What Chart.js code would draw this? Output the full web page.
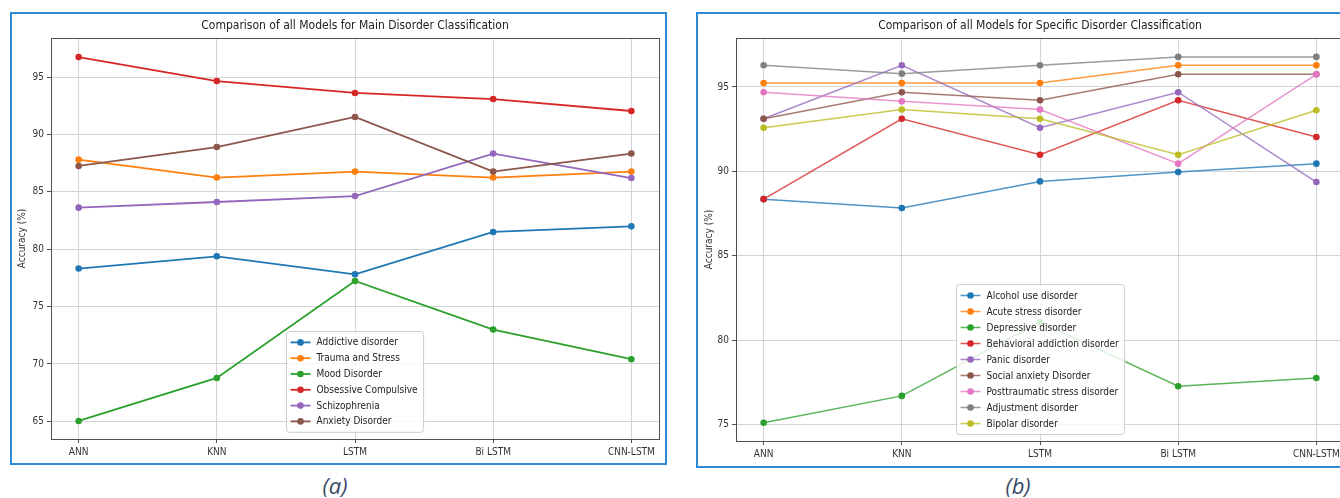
<!DOCTYPE html>
<html>
<head>
<meta charset="utf-8">
<script src="https://cdn.jsdelivr.net/npm/chart.js@4.4.1/dist/chart.umd.min.js"></script>
<style>
    body { margin: 0; width: 1340px; height: 498px; overflow: hidden; background: #fff; position: relative; }
    .panel { position: absolute; box-sizing: border-box; border: 2px solid #2f8ad6; }
    canvas { position: absolute; }
    .cap { position: absolute; width: 100px; text-align: center; font-family: 'Open Sans', 'Noto Sans', sans-serif;
           font-style: italic; font-size: 22px; color: #3b4a68; }
</style>
</head>
<body>
<div class="panel" style="left:10px; top:12px; width:657px; height:453px;"></div>
<div class="panel" style="left:696px; top:12px; width:680px; height:456px;"></div>
<canvas id="chartA" width="652" height="448" style="left:12px; top:14px;"></canvas>
<canvas id="chartB" width="650" height="450" style="left:699px; top:14px;"></canvas>
<div class="cap" style="left:285px; top:470px;">(a)</div>
<div class="cap" style="left:968px; top:470px;">(b)</div>

<script>
const models = ['ANN', 'KNN', 'LSTM', 'Bi LSTM', 'CNN-LSTM'];
const yTicksA = [65, 70, 75, 80, 85, 90, 95];
const yTicksB = [75, 80, 85, 90, 95];

// (a) main disorder classes
const mainLabels = ['Addictive disorder', 'Trauma and Stress', 'Mood Disorder',
    'Obsessive Compulsive', 'Schizophrenia', 'Anxiety Disorder'];
const addictive = [78.31, 79.38, 77.81, 81.50, 81.99];
const trauma = [87.80, 86.24, 86.76, 86.24, 86.76];
const mood = [65.03, 68.78, 77.23, 73.00, 70.41];
const obsessive = [96.74, 94.65, 93.61, 93.08, 92.04];
const schizo = [83.62, 84.11, 84.63, 88.33, 86.20];
const anxiety = [87.25, 88.90, 91.52, 86.76, 88.33];

// (b) specific disorder classes
const specLabels = ['Alcohol use disorder', 'Acute stress disorder', 'Depressive disorder',
    'Behavioral addiction disorder', 'Panic disorder', 'Social anxiety Disorder',
    'Posttraumatic stress disorder', 'Adjustment disorder', 'Bipolar disorder'];
const alcohol = [88.36, 87.83, 89.41, 89.96, 90.46];
const acute = [95.24, 95.24, 95.24, 96.29, 96.29];
const depressive = [75.12, 76.71, 81.08, 77.28, 77.77];
const behavioral = [88.36, 93.12, 90.99, 94.21, 92.04];
const panic = [93.12, 96.29, 92.59, 94.69, 89.37];
const socialAnx = [93.12, 94.69, 94.21, 95.75, 95.75];
const ptsd = [94.69, 94.15, 93.66, 90.46, 95.75];
const adjustment = [96.29, 95.79, 96.29, 96.78, 96.78];
const bipolar = [92.59, 93.66, 93.12, 90.99, 93.62];

const tab10 = ['#1f77b4', '#ff7f0e', '#2ca02c', '#d62728', '#9467bd', '#8c564b', '#e377c2', '#7f7f7f', '#bcbd22'];

Chart.defaults.font.family = "'DejaVu Sans Condensed', 'Liberation Sans Narrow', 'Liberation Sans', sans-serif";
Chart.defaults.color = '#333';

// matplotlib style box around the plot area
const frame = {
    id: 'frame',
    afterDatasetsDraw(chart) {
        const { ctx, chartArea: a } = chart;
        ctx.save();
        ctx.strokeStyle = '#505050';
        ctx.lineWidth = 1;
        ctx.strokeRect(a.left + 0.5, a.top + 0.5, a.right - a.left, a.bottom - a.top);
        ctx.restore();
    }
};

// legend drawn inside the plot, lower center
const innerLegend = {
    id: 'innerLegend',
    afterDraw(chart, args, opts) {
        const { ctx, chartArea: a } = chart;
        const sets = chart.data.datasets;
        ctx.save();
        ctx.font = '10px ' + Chart.defaults.font.family;
        const tw = Math.max(...sets.map(d => ctx.measureText(d.label).width));
        const w = 30 + tw + 6;
        const h = sets.length * opts.rowH + 6;
        const x = Math.round((a.left + a.right) / 2 - w / 2) + 0.5;
        const y = Math.round(a.bottom - 7 - h) + 0.5;
        ctx.beginPath();
        ctx.roundRect(x, y, w, h, 3);
        ctx.fillStyle = 'rgba(255,255,255,0.8)';
        ctx.fill();
        ctx.strokeStyle = '#cccccc';
        ctx.lineWidth = 1;
        ctx.stroke();
        sets.forEach((d, i) => {
            const cy = y + 3 + opts.rowH * (i + 0.5);
            ctx.strokeStyle = d.borderColor;
            ctx.lineWidth = d.borderWidth;
            ctx.beginPath();
            ctx.moveTo(x + 4, cy);
            ctx.lineTo(x + 24, cy);
            ctx.stroke();
            ctx.fillStyle = d.pointBackgroundColor;
            ctx.beginPath();
            ctx.arc(x + 14, cy, 3.3, 0, Math.PI * 2);
            ctx.fill();
            ctx.fillStyle = '#222';
            ctx.textBaseline = 'middle';
            ctx.fillText(d.label, x + 30, cy + 0.5);
        });
        ctx.restore();
    }
};

function makeSets(labels, series, lineAlpha, width) {
    return series.map((vals, i) => ({
        label: labels[i],
        data: vals.map((v, j) => ({ x: j, y: v })),
        borderColor: tab10[i] + lineAlpha,
        borderWidth: width,
        pointBackgroundColor: tab10[i],
        pointBorderWidth: 0,
        pointRadius: 3.3,
        tension: 0,
        order: series.length - i
    }));
}

function makeChart(id, title, sets, yMin, yMax, yTicks, yWidth, rowH) {
    return new Chart(document.getElementById(id), {
        type: 'line',
        data: { datasets: sets },
        options: {
            responsive: false,
            animation: false,
            layout: { padding: { left: 0, right: 5, top: 0, bottom: 0 } },
            plugins: {
                legend: { display: false },
                tooltip: { enabled: false },
                title: {
                    display: true,
                    fullSize: false,
                    text: title,
                    color: '#222',
                    font: { size: 12, weight: 'normal' },
                    padding: { top: 5, bottom: 4.6 }
                },
                innerLegend: { rowH: rowH }
            },
            scales: {
                x: {
                    type: 'linear',
                    min: -0.2,
                    max: 4.2,
                    afterBuildTicks: s => { s.ticks = models.map((m, i) => ({ value: i })); },
                    afterFit: s => { s.height = 23; },
                    ticks: {
                        callback: v => models[v],
                        font: { size: 10 },
                        color: '#333',
                        padding: 3,
                        maxRotation: 0
                    },
                    grid: { color: '#d4d4d4', tickColor: '#505050', tickLength: 4, lineWidth: 1 },
                    border: { display: false }
                },
                y: {
                    min: yMin,
                    max: yMax,
                    afterBuildTicks: s => { s.ticks = yTicks.map(v => ({ value: v })); },
                    afterFit: s => { s.width = yWidth; },
                    ticks: { font: { size: 10 }, color: '#333', padding: 3 },
                    grid: { color: '#d4d4d4', tickColor: '#505050', tickLength: 4, lineWidth: 1 },
                    border: { display: false },
                    title: {
                        display: true,
                        text: 'Accuracy (%)',
                        color: '#333',
                        font: { size: 10 },
                        padding: { top: 4, bottom: 0 }
                    }
                }
            }
        },
        plugins: [frame, innerLegend]
    });
}

makeChart('chartA', 'Comparison of all Models for Main Disorder Classification',
    makeSets(mainLabels, [addictive, trauma, mood, obsessive, schizo, anxiety], '', 1.8),
    63.46, 98.4, yTicksA, 39, 15.8);

makeChart('chartB', 'Comparison of all Models for Specific Disorder Classification',
    makeSets(specLabels, [alcohol, acute, depressive, behavioral, panic, socialAnx, ptsd, adjustment, bipolar], 'c8', 1.5),
    74.04, 97.9, yTicksB, 37, 16);
</script>
</body>
</html>
